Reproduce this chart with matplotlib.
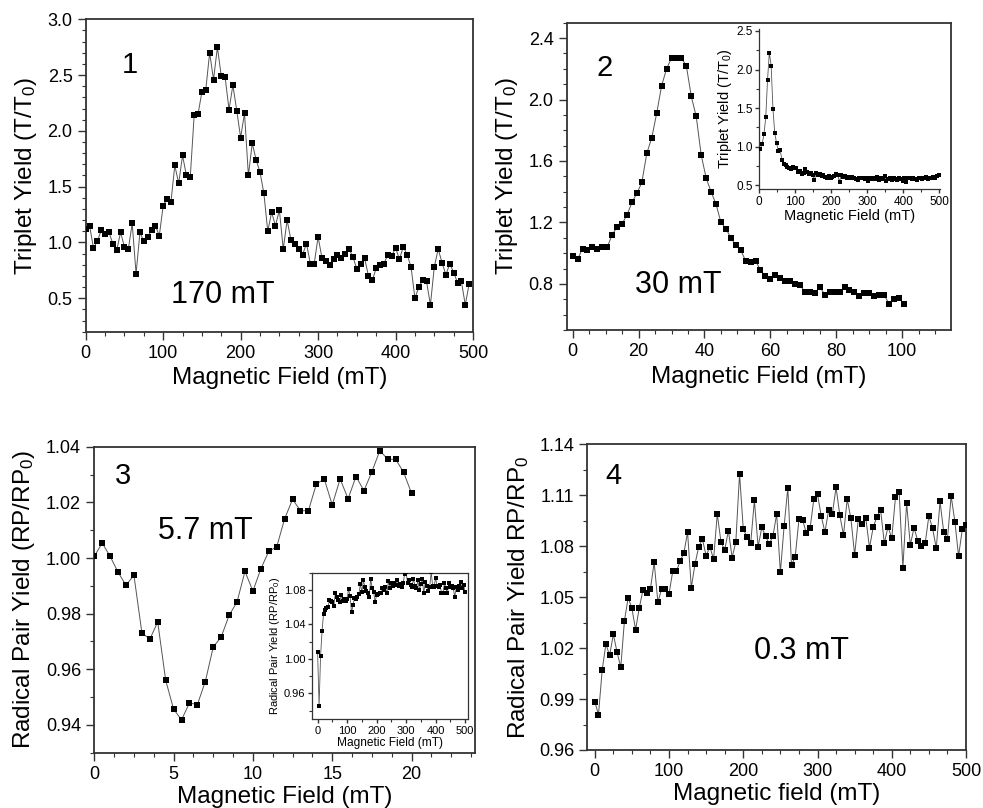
import numpy as np
import matplotlib
matplotlib.use('Agg')
import matplotlib.pyplot as plt
from matplotlib.ticker import MultipleLocator, FormatStrFormatter

plt.rcParams['font.family'] = ['Liberation Sans', 'DejaVu Sans']
plt.rcParams['mathtext.default'] = 'regular'

# --------- Data ---------
# panel 1: triplet yield, 0-495 mT step 5
field1 = np.arange(0, 500, 5)
yield1 = [1.12, 1.15, 0.95, 1.01, 1.11, 1.08, 1.09, 0.99, 0.93, 1.09,
          0.96, 0.94, 1.17, 0.72, 1.09, 1.01, 1.05, 1.11, 1.15, 1.06,
          1.33, 1.39, 1.36, 1.69, 1.53, 1.78, 1.60, 1.59, 2.14, 2.15,
          2.35, 2.37, 2.70, 2.46, 2.75, 2.49, 2.48, 2.19, 2.41, 2.18,
          1.94, 2.16, 1.60, 1.89, 1.74, 1.63, 1.44, 1.10, 1.27, 1.15,
          1.29, 0.94, 1.20, 1.02, 0.99, 0.94, 0.89, 0.99, 0.81, 0.81,
          1.05, 0.86, 0.83, 0.80, 0.85, 0.89, 0.86, 0.90, 0.94, 0.87,
          0.76, 0.81, 0.86, 0.70, 0.66, 0.77, 0.80, 0.81, 0.89, 0.88,
          0.95, 0.85, 0.96, 0.89, 0.78, 0.50, 0.60, 0.66, 0.65, 0.44,
          0.78, 0.94, 0.82, 0.71, 0.81, 0.73, 0.64, 0.65, 0.44, 0.63]

# panel 2: triplet yield, 0-100.5 mT step 1.5
field2 = np.arange(0, 101, 1.5)
yield2 = [0.98, 0.96, 1.03, 1.02, 1.04, 1.03, 1.04, 1.04, 1.12, 1.17,
          1.19, 1.25, 1.33, 1.39, 1.46, 1.65, 1.75, 1.91, 2.09, 2.20,
          2.27, 2.27, 2.27, 2.22, 2.02, 1.89, 1.64, 1.49, 1.40, 1.32,
          1.20, 1.16, 1.10, 1.05, 1.02, 0.95, 0.94, 0.95, 0.89, 0.85,
          0.83, 0.86, 0.84, 0.82, 0.82, 0.80, 0.79, 0.75, 0.75, 0.74,
          0.78, 0.73, 0.75, 0.75, 0.75, 0.78, 0.76, 0.75, 0.72, 0.74,
          0.74, 0.72, 0.73, 0.73, 0.67, 0.70, 0.71, 0.67]

# panel 2 inset: 0-500 mT
field2_in = np.arange(3, 500, 5)
yield2_in = [0.97, 1.04, 1.16, 1.38, 1.87, 2.22, 2.05, 1.49, 1.18, 1.05,
             0.95, 0.96, 0.83, 0.78, 0.76, 0.74, 0.73, 0.71, 0.74, 0.72,
             0.73, 0.67, 0.69, 0.65, 0.66, 0.71, 0.68, 0.65, 0.66, 0.63,
             0.57, 0.66, 0.64, 0.65, 0.62, 0.63, 0.61, 0.60, 0.62, 0.59,
             0.61, 0.62, 0.65, 0.63, 0.55, 0.64, 0.61, 0.62, 0.60, 0.61,
             0.59, 0.61, 0.60, 0.58, 0.57, 0.60, 0.59, 0.60, 0.58, 0.59,
             0.56, 0.59, 0.58, 0.60, 0.58, 0.61, 0.57, 0.60, 0.58, 0.62,
             0.56, 0.58, 0.60, 0.57, 0.59, 0.58, 0.57, 0.60, 0.58, 0.56,
             0.59, 0.55, 0.59, 0.60, 0.58, 0.59, 0.58, 0.57, 0.60, 0.59,
             0.58, 0.60, 0.61, 0.58, 0.60, 0.59, 0.61, 0.60, 0.62, 0.63]

# panel 3: radical pair yield, 0-20 mT step 0.5
field3 = np.arange(0, 20.5, 0.5)
yield3 = [1.0006, 1.0054, 1.0006, 0.9949, 0.9902, 0.9938, 0.9732, 0.9708, 0.9770, 0.9561,
          0.9457, 0.9418, 0.9479, 0.9473, 0.9556, 0.9680, 0.9716, 0.9794, 0.9842, 0.9952,
          0.9881, 0.9961, 1.0024, 1.0040, 1.0141, 1.0211, 1.0170, 1.0170, 1.0266, 1.0284,
          1.0191, 1.0284, 1.0213, 1.0293, 1.0242, 1.0310, 1.0386, 1.0355, 1.0355, 1.0308,
          1.0233]

# panel 3 inset: 0-500 mT step 5
field3_in = np.arange(0, 505, 5)
yield3_in = [1.008, 0.945, 1.003, 1.032, 1.052, 1.057, 1.059, 1.060, 1.068, 1.067,
             1.066, 1.061, 1.076, 1.072, 1.068, 1.066, 1.074, 1.067, 1.069, 1.067,
             1.070, 1.081, 1.073, 1.054, 1.062, 1.071, 1.070, 1.072, 1.075, 1.087,
             1.078, 1.091, 1.084, 1.079, 1.076, 1.072, 1.093, 1.082, 1.078, 1.066,
             1.074, 1.075, 1.077, 1.076, 1.082, 1.080, 1.083, 1.076, 1.090, 1.082,
             1.088, 1.085, 1.088, 1.086, 1.091, 1.085, 1.087, 1.084, 1.088, 1.098,
             1.101, 1.088, 1.092, 1.086, 1.083, 1.093, 1.085, 1.082, 1.091, 1.080,
             1.087, 1.093, 1.076, 1.089, 1.085, 1.079, 1.083, 1.101, 1.085, 1.084,
             1.094, 1.085, 1.083, 1.086, 1.077, 1.076, 1.088, 1.082, 1.076, 1.088,
             1.083, 1.085, 1.082, 1.072, 1.083, 1.080, 1.085, 1.089, 1.082, 1.086,
             1.078]

# panel 4: radical pair yield, 0-500 mT step 5
field4 = np.arange(0, 505, 5)
yield4 = [0.9885, 0.9808, 1.0071, 1.0224, 1.0157, 1.0281, 1.0177, 1.0087, 1.0362, 1.0497,
          1.0434, 1.0309, 1.0438, 1.0544, 1.0526, 1.0550, 1.0705, 1.0471, 1.0548, 1.0548,
          1.0519, 1.0652, 1.0652, 1.0713, 1.0760, 1.0882, 1.0556, 1.0695, 1.0797, 1.0841,
          1.0744, 1.0797, 1.0723, 1.0990, 1.0825, 1.0778, 1.0892, 1.0733, 1.0825, 1.1227,
          1.0901, 1.0854, 1.0817, 1.1070, 1.0797, 1.0911, 1.0860, 1.0813, 1.0860, 1.0990,
          1.0646, 1.0917, 1.1143, 1.0689, 1.0738, 1.0958, 1.0954, 1.0876, 1.0905, 1.1076,
          1.1106, 1.0978, 1.0882, 1.1013, 1.0990, 1.1147, 1.0984, 1.0866, 1.1076, 1.0964,
          1.0748, 1.0960, 1.0933, 1.0968, 1.0791, 1.0911, 1.0974, 1.1013, 1.0817, 1.0915,
          1.0846, 1.1088, 1.1117, 1.0674, 1.1053, 1.0807, 1.0909, 1.0832, 1.0803, 1.0817,
          1.0978, 1.0905, 1.0788, 1.1064, 1.0884, 1.0842, 1.1096, 1.0945, 1.0742, 1.0899,
          1.0925]

# --------- Helpers ---------
def style_axes(ax, fs=13, lw=1.3):
    for s in ax.spines.values():
        s.set_linewidth(lw)
        s.set_color('#333333')
    ax.tick_params(which='both', direction='out', top=False, right=False,
                   labelsize=fs, color='#333333')
    ax.tick_params(which='major', length=6, width=1.0)
    ax.tick_params(which='minor', length=3, width=0.8)

def draw(ax, x, y, ms=4.2, lw=0.7):
    ax.plot(x, y, '-', color='#555555', lw=lw, zorder=2)
    ax.plot(x, y, 's', color='black', ms=ms, mec='black', mew=0, zorder=3)

fig = plt.figure(figsize=(9.83, 8.08), dpi=100)

# --- Panel 1 ---
ax1 = fig.add_axes([0.0872, 0.5895, 0.394, 0.3866])
draw(ax1, field1, yield1)
ax1.set_xlim(0, 500)
ax1.set_ylim(0.2, 3.0)
ax1.xaxis.set_major_locator(MultipleLocator(100))
ax1.xaxis.set_minor_locator(MultipleLocator(25))
ax1.yaxis.set_major_locator(MultipleLocator(0.5))
ax1.yaxis.set_minor_locator(MultipleLocator(0.1))
ax1.yaxis.set_major_formatter(FormatStrFormatter('%.1f'))
style_axes(ax1)
ax1.set_xlabel('Magnetic Field (mT)', fontsize=17.5, labelpad=4)
ax1.set_ylabel('Triplet Yield (T/T$_0$)', fontsize=17.5, labelpad=6)
ax1.text(0.114, 0.853, '1', transform=ax1.transAxes, fontsize=21, ha='center', va='center')
ax1.text(0.355, 0.118, '170 mT', transform=ax1.transAxes, fontsize=22, ha='center', va='center')

# --- Panel 2 ---
ax2 = fig.add_axes([0.5765, 0.5916, 0.3906, 0.3803])
draw(ax2, field2, yield2)
ax2.set_xlim(-1.8, 114.7)
ax2.set_ylim(0.5, 2.5)
ax2.xaxis.set_major_locator(MultipleLocator(20))
ax2.xaxis.set_minor_locator(MultipleLocator(5))
ax2.yaxis.set_major_locator(MultipleLocator(0.4))
ax2.yaxis.set_minor_locator(MultipleLocator(0.1))
ax2.yaxis.set_major_formatter(FormatStrFormatter('%.1f'))
style_axes(ax2)
ax2.set_xlabel('Magnetic Field (mT)', fontsize=17.5, labelpad=4)
ax2.set_ylabel('Triplet Yield (T/T$_0$)', fontsize=17.5, labelpad=6)
ax2.text(0.10, 0.852, '2', transform=ax2.transAxes, fontsize=21, ha='center', va='center')
ax2.text(0.29, 0.146, '30 mT', transform=ax2.transAxes, fontsize=22, ha='center', va='center')

# inset of panel 2
ax2i = fig.add_axes([0.7724, 0.7657, 0.1838, 0.198])
draw(ax2i, field2_in, yield2_in, ms=3.0, lw=0.6)
ax2i.set_xlim(0, 502)
ax2i.set_ylim(0.45, 2.52)
ax2i.xaxis.set_major_locator(MultipleLocator(100))
ax2i.xaxis.set_minor_locator(MultipleLocator(50))
ax2i.yaxis.set_major_locator(MultipleLocator(0.5))
ax2i.yaxis.set_minor_locator(MultipleLocator(0.25))
ax2i.yaxis.set_major_formatter(FormatStrFormatter('%.1f'))
style_axes(ax2i, fs=8.5, lw=0.9)
ax2i.tick_params(which='major', length=3, pad=1.5)
ax2i.tick_params(which='minor', length=2)
ax2i.spines['top'].set_visible(False)
ax2i.spines['right'].set_visible(False)
ax2i.set_xlabel('Magnetic Field (mT)', fontsize=10.5, labelpad=1)
ax2i.set_ylabel('Triplet Yield (T/T$_0$)', fontsize=10.5, labelpad=2)

# --- Panel 3 ---
ax3 = fig.add_axes([0.0959, 0.0684, 0.3873, 0.3787])
draw(ax3, field3, yield3)
ax3.set_xlim(0, 24)
ax3.set_ylim(0.93, 1.04)
ax3.xaxis.set_major_locator(MultipleLocator(5))
ax3.xaxis.set_minor_locator(MultipleLocator(1.25))
ax3.yaxis.set_major_locator(MultipleLocator(0.02))
ax3.yaxis.set_minor_locator(MultipleLocator(0.01))
ax3.yaxis.set_major_formatter(FormatStrFormatter('%.2f'))
style_axes(ax3)
ax3.set_xlabel('Magnetic Field (mT)', fontsize=17.5, labelpad=2)
ax3.set_ylabel('Radical Pair Yield (RP/RP$_0$)', fontsize=17.5, labelpad=6)
ax3.text(0.0766, 0.904, '3', transform=ax3.transAxes, fontsize=21, ha='center', va='center')
ax3.text(0.291, 0.725, '5.7 mT', transform=ax3.transAxes, fontsize=22, ha='center', va='center')

# inset of panel 3
ax3i = fig.add_axes([0.3171, 0.1098, 0.1593, 0.1814])
draw(ax3i, field3_in, yield3_in, ms=2.8, lw=0.6)
ax3i.set_xlim(-20, 511)
ax3i.set_ylim(0.93, 1.10)
ax3i.xaxis.set_major_locator(MultipleLocator(100))
ax3i.xaxis.set_minor_locator(MultipleLocator(50))
ax3i.yaxis.set_major_locator(MultipleLocator(0.04))
ax3i.yaxis.set_minor_locator(MultipleLocator(0.02))
ax3i.yaxis.set_major_formatter(FormatStrFormatter('%.2f'))
style_axes(ax3i, fs=8, lw=0.9)
ax3i.tick_params(which='major', length=3, pad=1.5)
ax3i.tick_params(which='minor', length=2)
ax3i.set_xlabel('Magnetic Field (mT)', fontsize=8.6, labelpad=1)
ax3i.set_ylabel('Radical Pair Yield (RP/RP$_0$)', fontsize=8, labelpad=1)

# --- Panel 4 ---
ax4 = fig.add_axes([0.5975, 0.0718, 0.3852, 0.3783])
draw(ax4, field4, yield4)
ax4.set_xlim(-10, 500)
ax4.set_ylim(0.96, 1.14)
ax4.xaxis.set_major_locator(MultipleLocator(100))
ax4.xaxis.set_minor_locator(MultipleLocator(25))
ax4.yaxis.set_major_locator(MultipleLocator(0.03))
ax4.yaxis.set_minor_locator(MultipleLocator(0.015))
ax4.yaxis.set_major_formatter(FormatStrFormatter('%.2f'))
style_axes(ax4)
ax4.set_xlabel('Magnetic field (mT)', fontsize=17.5, labelpad=2)
ax4.set_ylabel('Radical Pair Yield RP/RP$_0$', fontsize=17.5, labelpad=6)
ax4.text(0.07, 0.896, '4', transform=ax4.transAxes, fontsize=21, ha='center', va='center')
ax4.text(0.566, 0.325, '0.3 mT', transform=ax4.transAxes, fontsize=22, ha='center', va='center')

fig.savefig('out.png', dpi=100)
